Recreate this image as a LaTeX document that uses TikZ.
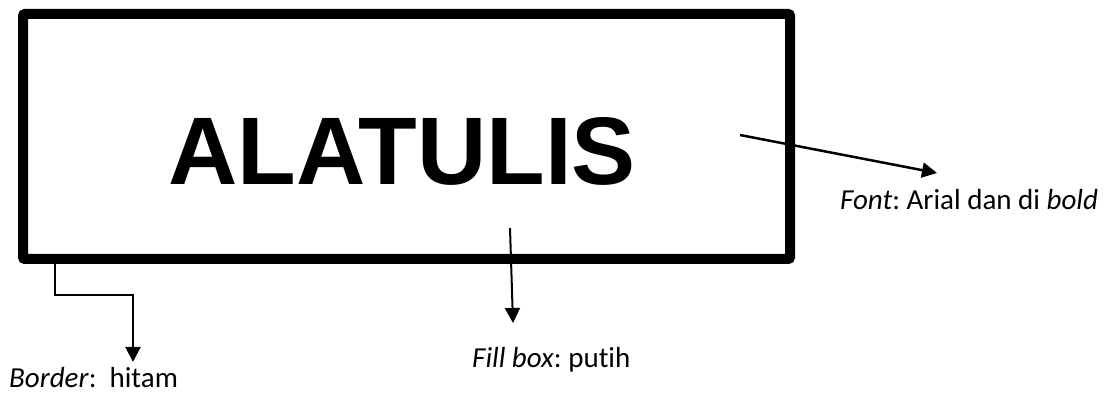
\documentclass[tikz,border=0pt]{standalone}
\usepackage{fontspec}
\setmainfont{Carlito}[Ligatures=NoCommon]
\newfontfamily\arialfont{Liberation Sans}
\usetikzlibrary{arrows.meta}
\frenchspacing

\begin{document}
\begin{tikzpicture}[x=1pt, y=-1pt, >={Triangle[width=15pt, length=15pt]},
    kotak/.style={draw, line width=10pt, rounded corners=2pt, inner sep=0pt,
        minimum width=767pt, minimum height=245pt},
    judul/.style={font=\arialfont\bfseries\fontsize{96}{110}\selectfont, inner sep=0pt, anchor=base},
    ket/.style={font=\fontsize{29}{35}\selectfont, inner sep=0pt, anchor=base west},
    panah/.style={->, line width=2pt}]
    \useasboundingbox (0, 0) rectangle (1114, 395);
    % kotak utama
    \node[kotak] (box) at (406.5, 136.5) {};
    \node[judul] (judul) at (402, 185) {ALATULIS};
    % keterangan
    \node[ket] (border) at (9, 388) {\textit{Border}:\ \ hitam};
    \node[ket] (fill)   at (472, 367) {\textit{Fill box}: putih};
    \node[ket] (font)   at (840, 210) {\textit{Font}: Arial dan di \textit{bold}};
    % titik panah
    \coordinate (b0) at (55, 264);
    \coordinate (b1) at (133, 362);
    \coordinate (f0) at (510, 228);
    \coordinate (f1) at (513, 323);
    \coordinate (t0) at (740, 135);
    \coordinate (t1) at (937, 173);
    \draw[panah] (b0) -- ++(0, 31) -| (b1);
    \draw[panah] (f0) -- (f1);
    \draw[panah, line width=2.5pt] (t0) -- (t1);
\end{tikzpicture}
\end{document}
